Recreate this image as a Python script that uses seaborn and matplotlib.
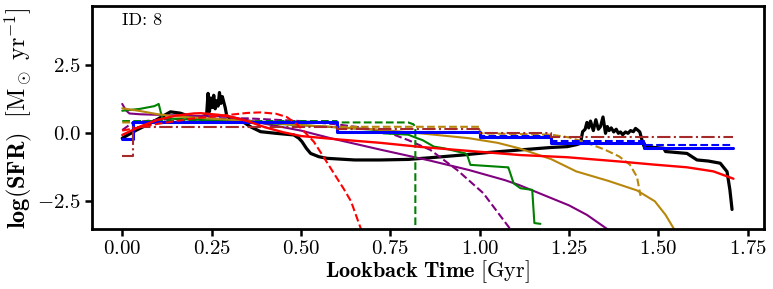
import numpy as np
import pandas as pd
import matplotlib
matplotlib.use("Agg")
import matplotlib.pyplot as plt
import seaborn as sns

# ---------------- data ----------------
black_x = [0.0, 0.04, 0.08, 0.135, 0.163, 0.19, 0.215, 0.236, 0.240, 0.244, 0.248, 0.252,
           0.256, 0.260, 0.264, 0.268, 0.272, 0.276, 0.280, 0.284, 0.288, 0.292, 0.30, 0.33,
           0.359, 0.387, 0.43, 0.48, 0.494, 0.503, 0.515, 0.527, 0.55, 0.573, 0.65, 0.722,
           0.80, 0.86, 0.95, 1.02, 1.114, 1.20, 1.245, 1.27, 1.282, 1.288, 1.295, 1.30, 1.305,
           1.31, 1.318, 1.325, 1.332, 1.338, 1.345, 1.352, 1.357, 1.362, 1.368, 1.375, 1.382,
           1.388, 1.394, 1.40, 1.408, 1.415, 1.422, 1.43, 1.436, 1.442, 1.448, 1.455, 1.46,
           1.515, 1.52, 1.58, 1.608, 1.64, 1.673, 1.692, 1.70, 1.706]
black_y = [-0.18, 0.12, 0.38, 0.79, 0.74, 0.61, 0.58, 0.67, 1.47, 0.80, 1.30, 0.95, 1.40,
           0.90, 1.20, 1.00, 1.50, 1.10, 1.35, 1.15, 0.95, 0.67, 0.55, 0.49,
           0.24, 0.06, 0.00, -0.06, -0.18, -0.31, -0.55, -0.74, -0.86, -0.92, -0.98, -0.98,
           -0.96, -0.90, -0.80, -0.71, -0.61, -0.52, -0.49, -0.42, -0.37, 0.06, 0.15, 0.40,
           0.20, 0.45, 0.10, 0.50, 0.15, 0.25, 0.60, 0.00, 0.25, 0.10, 0.20, 0.05, 0.15,
           0.00, 0.05, -0.05, 0.05, 0.00, 0.10, 0.06, 0.18, 0.12, 0.05, -0.30, -0.49,
           -0.55, -0.67, -0.74, -0.98, -1.02, -1.10, -1.41, -2.08, -2.80]

red_x = [0.0, 0.05, 0.10, 0.15, 0.20, 0.22, 0.27, 0.30, 0.35, 0.40, 0.45, 0.50, 0.60,
         0.722, 0.834, 1.00, 1.114, 1.245, 1.394, 1.487, 1.58, 1.654, 1.71]
red_y = [-0.06, 0.25, 0.50, 0.65, 0.73, 0.74, 0.68, 0.62, 0.45, 0.22, 0.04, -0.10, -0.22,
         -0.35, -0.50, -0.68, -0.80, -0.88, -1.04, -1.15, -1.25, -1.40, -1.67]

red_d_x = [0.0, 0.10, 0.20, 0.30, 0.35, 0.387, 0.43, 0.46, 0.49, 0.51, 0.536, 0.56,
           0.592, 0.62, 0.64, 0.67]
red_d_y = [0.10, 0.35, 0.55, 0.68, 0.75, 0.77, 0.72, 0.60, 0.32, 0.05, -0.31, -0.80,
           -1.47, -2.05, -2.50, -3.60]

green_x = [0.0, 0.05, 0.09, 0.102, 0.112, 0.30, 0.50, 0.60, 0.72, 0.73, 0.80, 0.825,
           0.84, 0.872, 0.90, 0.96, 0.965, 0.974, 1.077, 1.08, 1.095, 1.114, 1.147,
           1.153, 1.17]
green_y = [0.83, 0.90, 1.00, 1.08, 0.55, 0.45, 0.30, 0.22, 0.12, 0.00, -0.05, -0.18,
           -0.25, -0.49, -0.55, -0.74, -0.80, -1.16, -1.25, -1.25, -1.84, -2.02, -2.08,
           -3.30, -3.33]

green_d_x = [0.0, 0.60, 0.60, 0.80, 0.815, 0.82, 0.82]
green_d_y = [0.45, 0.45, 0.40, 0.40, 0.33, 0.20, -4.0]

purple_x = [0.0, 0.01, 0.02, 0.05, 0.20, 0.30, 0.40, 0.50, 0.583, 0.722, 0.86, 0.97,
            1.07, 1.11, 1.25, 1.30, 1.36]
purple_y = [1.08, 0.85, 0.73, 0.70, 0.64, 0.62, 0.35, 0.10, -0.18, -0.60, -1.00, -1.35,
            -1.72, -1.90, -2.65, -3.00, -3.55]

purple_d_x = [0.0, 0.03, 0.10, 0.20, 0.35, 0.50, 0.60, 0.675, 0.75, 0.80, 0.862, 0.937,
              1.01, 1.09]
purple_d_y = [0.12, 0.40, 0.50, 0.55, 0.55, 0.45, 0.33, 0.20, 0.00, -0.25, -0.61, -1.35,
              -2.20, -3.60]

gold_x = [0.0, 0.05, 0.10, 0.15, 0.30, 0.50, 0.70, 0.834, 0.97, 1.05, 1.11, 1.20, 1.27,
          1.36, 1.44, 1.49, 1.52, 1.545]
gold_y = [0.92, 0.82, 0.70, 0.62, 0.50, 0.30, 0.15, 0.00, -0.18, -0.35, -0.55, -0.95,
          -1.40, -1.75, -2.10, -2.50, -3.00, -3.55]

gold_d_x = [0.0, 0.60, 0.60, 1.00, 1.00, 1.20, 1.25, 1.30, 1.35, 1.39, 1.42, 1.44, 1.45]
gold_d_y = [0.40, 0.40, 0.24, 0.24, 0.00, -0.05, -0.15, -0.35, -0.60, -0.85, -1.15,
            -1.60, -2.30]

blue_x = [0.0, 0.03, 0.03, 0.60, 0.60, 1.00, 1.00, 1.20, 1.20, 1.46, 1.46, 1.71]
blue_y = [-0.22, -0.22, 0.40, 0.40, 0.06, 0.06, -0.15, -0.15, -0.37, -0.37, -0.55, -0.55]

blue_d_x = [0.0, 0.03, 0.03, 0.60, 0.60, 1.00, 1.00, 1.20, 1.20, 1.46, 1.46, 1.71]
blue_d_y = [-0.22, -0.22, 0.40, 0.40, 0.06, 0.06, -0.10, -0.10, -0.30, -0.30, -0.42, -0.42]

brown_x = [0.0, 0.03, 0.03, 0.60, 0.60, 1.00, 1.00, 1.20, 1.20, 1.71]
brown_y = [-0.82, -0.82, 0.25, 0.25, 0.15, 0.15, 0.00, 0.00, -0.15, -0.15]

x_ticks = [0.00, 0.25, 0.50, 0.75, 1.00, 1.25, 1.50, 1.75]
y_ticks = [-2.5, 0.0, 2.5]
id_label = "ID: 8"

# ---------------- style ----------------
sns.set_style("ticks")
plt.rcParams["font.family"] = ["cmr10", "DejaVu Sans"]
plt.rcParams["mathtext.fontset"] = "cm"
plt.rcParams["axes.formatter.use_mathtext"] = True
plt.rcParams["axes.unicode_minus"] = True
plt.rcParams["axes.edgecolor"] = "black"
plt.rcParams["xtick.color"] = "black"
plt.rcParams["ytick.color"] = "black"
plt.rcParams["text.color"] = "black"
plt.rcParams["axes.labelcolor"] = "black"

fig = plt.figure(figsize=(7.73, 2.89), dpi=100)
ax = fig.add_axes([0.1186, 0.2066, 0.8698, 0.7724])

series = [
    (black_x, black_y, "black", "-", 2.3),
    (purple_x, purple_y, "purple", "-", 1.5),
    (purple_d_x, purple_d_y, "purple", "--", 1.5),
    (green_x, green_y, "green", "-", 1.5),
    (green_d_x, green_d_y, "green", "--", 1.5),
    (gold_x, gold_y, "darkgoldenrod", "-", 1.5),
    (gold_d_x, gold_d_y, "darkgoldenrod", "--", 1.5),
    (blue_x, blue_y, "blue", "-", 2.2),
    (blue_d_x, blue_d_y, "blue", "--", 1.5),
    (brown_x, brown_y, "brown", "-.", 1.5),
    (red_d_x, red_d_y, "red", "--", 1.5),
    (red_x, red_y, "red", "-", 1.7),
]
for xs, ys, c, ls, lw in series:
    df = pd.DataFrame({"t": xs, "sfr": ys})
    sns.lineplot(data=df, x="t", y="sfr", ax=ax, color=c, linestyle=ls, lw=lw,
                 estimator=None, sort=False)

ax.set_xlim(-0.0855, 1.7955)
ax.set_ylim(-3.53, 4.68)
ax.set_xticks(x_ticks)
ax.set_yticks(y_ticks)
ax.xaxis.set_major_formatter(matplotlib.ticker.FuncFormatter(lambda v, p: f"${v:.2f}$"))
ax.yaxis.set_major_formatter(matplotlib.ticker.FuncFormatter(lambda v, p: f"${v:.1f}$"))
ax.tick_params(axis="both", which="major", labelsize=15, length=5, width=1.8,
               direction="out", pad=3)
for s in ax.spines.values():
    s.set_linewidth(2.0)
    s.set_color("black")

ax.set_xlabel(r"$\mathbf{Lookback\ Time}\ [\mathrm{Gyr}]$", fontsize=16, labelpad=0)
ax.set_ylabel(r"$\mathbf{log(SFR)}\ \ [\mathrm{M}_\odot\ \mathrm{yr}^{-1}]$",
              fontsize=17.5, labelpad=2)
ax.text(0.045, 0.972, id_label, transform=ax.transAxes, fontsize=13,
        family="cmr10", ha="left", va="top")

fig.savefig("out.png", dpi=100)
